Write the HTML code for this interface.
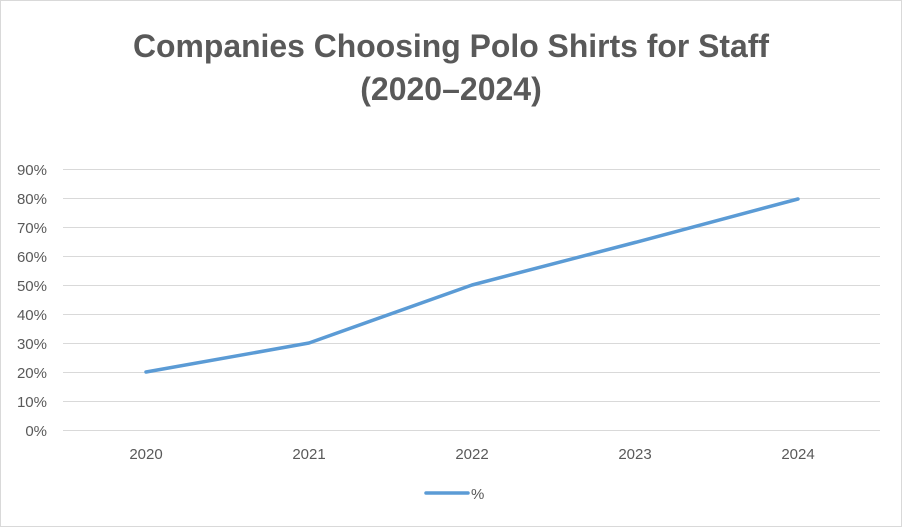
<!DOCTYPE html>
<html><head><meta charset="utf-8"><style>
body{margin:0;background:#fff;}
svg{display:block;font-family:"Liberation Sans",Arial,sans-serif;}
</style></head><body>
<svg width="902" height="527" viewBox="0 0 902 527">
<rect x="0.5" y="0.5" width="901" height="526" fill="#fff" stroke="#d9d9d9"/>
<text x="451" y="57" text-anchor="middle" font-size="32" font-weight="bold" fill="#595959" textLength="636" lengthAdjust="spacingAndGlyphs">Companies Choosing Polo Shirts for Staff</text>
<text x="451" y="100" text-anchor="middle" font-size="32" font-weight="bold" fill="#595959">(2020–2024)</text>
<g stroke="#d9d9d9" stroke-width="1">
<line x1="63" x2="880" y1="169.5" y2="169.5"/>
<line x1="63" x2="880" y1="198.5" y2="198.5"/>
<line x1="63" x2="880" y1="227.5" y2="227.5"/>
<line x1="63" x2="880" y1="256.5" y2="256.5"/>
<line x1="63" x2="880" y1="285.5" y2="285.5"/>
<line x1="63" x2="880" y1="314.5" y2="314.5"/>
<line x1="63" x2="880" y1="343.5" y2="343.5"/>
<line x1="63" x2="880" y1="372.5" y2="372.5"/>
<line x1="63" x2="880" y1="401.5" y2="401.5"/>
<line x1="63" x2="880" y1="430.5" y2="430.5"/>
</g>
<g font-size="15" fill="#595959" text-anchor="end">
<text x="47" y="175">90%</text>
<text x="47" y="204">80%</text>
<text x="47" y="233">70%</text>
<text x="47" y="262">60%</text>
<text x="47" y="291">50%</text>
<text x="47" y="320">40%</text>
<text x="47" y="349">30%</text>
<text x="47" y="378">20%</text>
<text x="47" y="407">10%</text>
<text x="47" y="436">0%</text>
</g>
<g font-size="15" fill="#595959" text-anchor="middle">
<text x="146" y="459">2020</text>
<text x="309" y="459">2021</text>
<text x="472" y="459">2022</text>
<text x="635" y="459">2023</text>
<text x="798" y="459">2024</text>
</g>
<polyline points="146,372 309,343 472,285 635,242.5 798,199" fill="none" stroke="#5b9bd5" stroke-width="3.5" stroke-linejoin="round" stroke-linecap="round"/>
<line x1="426" x2="468" y1="493" y2="493" stroke="#5b9bd5" stroke-width="3.5" stroke-linecap="round"/>
<text x="471" y="499" font-size="15" fill="#595959">%</text>
</svg>
</body></html>
